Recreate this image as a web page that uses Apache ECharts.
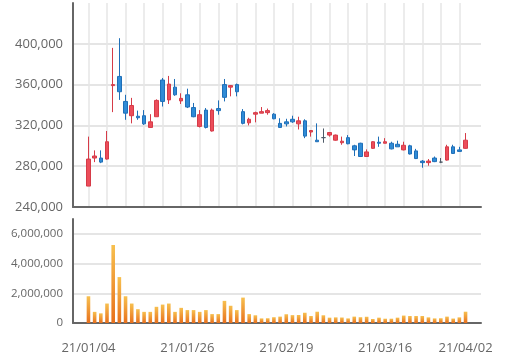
<!DOCTYPE html>
<html>
<head>
<meta charset="utf-8">
<script src="https://cdn.jsdelivr.net/npm/echarts@6/dist/echarts.min.js"></script>
<style>
html,body{margin:0;padding:0;background:#fff;}
#main{width:512px;height:364px;}
</style>
</head>
<body>
<div id="main"></div>
<script>
const dates = [
 '21/01/04','21/01/05','21/01/06','21/01/07','21/01/08','21/01/11','21/01/12','21/01/13','21/01/14','21/01/15',
 '21/01/18','21/01/19','21/01/20','21/01/21','21/01/22','21/01/25','21/01/26','21/01/27','21/01/28','21/01/29',
 '21/02/01','21/02/02','21/02/03','21/02/04','21/02/05','21/02/08','21/02/09','21/02/10','21/02/15','21/02/16',
 '21/02/17','21/02/18','21/02/19','21/02/22','21/02/23','21/02/24','21/02/25','21/02/26','21/03/02','21/03/03',
 '21/03/04','21/03/05','21/03/08','21/03/09','21/03/10','21/03/11','21/03/12','21/03/15','21/03/16','21/03/17',
 '21/03/18','21/03/19','21/03/22','21/03/23','21/03/24','21/03/25','21/03/26','21/03/29','21/03/30','21/03/31',
 '21/04/01','21/04/02'
];
const openP = [
 260500,288000,288000,287000,359000,368000,343500,329500,329000,329500,
 318000,328500,364500,345000,357500,344000,350000,337500,319000,335000,
 314500,336500,360000,357500,360000,333500,322500,331000,332000,332500,
 331000,322000,323500,326000,321500,324500,313500,305500,308000,310500,
 305500,303000,308000,300000,302500,289500,297500,303500,302500,302500,
 301500,296000,300000,295000,285000,283500,288000,284000,286000,299000,
 296000,297500
];
const closeP = [
 287000,290000,284000,304000,360000,353000,332000,339500,327500,321500,
 323500,344500,343500,360500,350000,346500,338000,328500,330500,318000,
 335000,334500,347500,359000,353000,322000,326000,332500,333500,334500,
 326500,318000,321500,323500,324500,309500,315000,304000,308000,313000,
 310500,304500,302000,296000,289500,294000,304000,302500,304000,297000,
 299000,300500,292000,287500,283500,285000,284500,284000,299000,292500,
 294500,305500
];
const lowP = [
 260500,284000,283000,286500,333000,345000,325500,322000,325500,320500,
 317500,328500,338500,341000,349000,341000,337000,328000,318000,317000,
 314000,330500,343500,348500,348500,321000,320000,323000,332000,330500,
 326000,318000,319000,322500,316000,307500,309000,304000,303000,309000,
 305000,301000,301500,290000,289000,289000,297000,299000,302500,296500,
 299000,295500,291500,287000,278500,280500,284000,283000,285500,292000,
 294500,297000
];
const highP = [
 309000,295500,295500,314500,396000,405500,350000,347000,334500,335000,
 331000,345500,366500,368500,365500,351500,356000,342000,335000,337000,
 336500,344500,365500,359500,361000,336000,327500,333500,338000,336500,
 332000,327000,326500,329500,328500,326000,315500,322000,317000,313500,
 311000,309000,310500,301000,303000,296500,304500,309000,307500,304000,
 305000,304000,301000,297000,286000,287000,289500,288000,301000,301000,
 299000,312500
];
const volume = [
 1800000,750000,650000,1310000,5250000,3090000,1800000,1310000,930000,750000,
 750000,1090000,1240000,1310000,750000,1020000,870000,870000,750000,870000,
 600000,600000,1490000,1160000,870000,1710000,600000,520000,310000,320000,
 390000,430000,590000,530000,540000,690000,470000,760000,520000,360000,
 380000,370000,310000,430000,390000,420000,270000,360000,290000,290000,
 360000,500000,470000,470000,470000,380000,310000,320000,430000,300000,
 380000,760000
];
const priceMin = 240000, priceMax = 440000, priceStep = 40000;
const volMin = 0, volMax = 7000000, volStep = 2000000;

// two empty slots on each side of the date axis
const padL = ['', ' '];
const padR = ['  ', '   '];
const categories = padL.concat(dates, padR);
const firstIdx = padL.length;
const lastIdx = padL.length + dates.length - 1;

const candleData = dates.map((d, i) => [d, openP[i], closeP[i], lowP[i], highP[i]]);
const volData = dates.map((d, i) => [d, volume[i]]);

function commas(v) { return String(v).replace(/\B(?=(\d{3})+(?!\d))/g, ','); }

const FONT = 'Open Sans';
const axisLineStyle = { color: '#666', width: 2 };
const chart = echarts.init(document.getElementById('main'), null, { renderer: 'canvas' });
chart.setOption({
  animation: false,
  backgroundColor: '#fff',
  textStyle: { fontFamily: FONT },
  grid: [
    { left: 73, right: 31, top: 3, height: 204 },
    { left: 73, right: 31, top: 219, height: 104 }
  ],
  xAxis: [
    {
      type: 'category', gridIndex: 0, data: categories, boundaryGap: true,
      axisLine: { lineStyle: axisLineStyle },
      axisTick: { show: false },
      axisLabel: { show: false },
      splitLine: {
        show: true, alignWithLabel: true,
        interval: (idx) => idx >= firstIdx && idx <= lastIdx && (idx - firstIdx) % 3 === 0,
        lineStyle: { color: '#e6e6e6', width: 1.5 }
      }
    },
    {
      type: 'category', gridIndex: 1, data: categories, boundaryGap: true,
      axisLine: { lineStyle: axisLineStyle },
      axisTick: { show: false },
      axisLabel: {
        color: '#666', fontSize: 13, fontFamily: FONT, margin: 19,
        interval: (idx) => idx >= firstIdx && idx <= lastIdx && ((idx - firstIdx) % 16 === 0 || idx === lastIdx)
      },
      splitLine: { show: false }
    }
  ],
  yAxis: [
    {
      type: 'value', gridIndex: 0, min: priceMin, max: priceMax, interval: priceStep,
      axisLine: { show: true, lineStyle: axisLineStyle },
      axisTick: { show: false },
      axisLabel: { color: '#666', fontSize: 13, fontFamily: FONT, margin: 10, showMaxLabel: false, formatter: commas },
      splitLine: { show: true, showMaxLine: false, showMinLine: false, lineStyle: { color: '#dcdcdc', width: 1.5 } }
    },
    {
      type: 'value', gridIndex: 1, min: volMin, max: volMax, interval: volStep,
      axisLine: { show: true, lineStyle: axisLineStyle },
      axisTick: { show: false },
      axisLabel: { color: '#666', fontSize: 11.5, fontFamily: FONT, margin: 10, showMaxLabel: false, formatter: commas },
      splitLine: { show: true, showMaxLine: false, showMinLine: false, lineStyle: { color: '#dcdcdc', width: 1.5 } }
    }
  ],
  series: [
    {
      type: 'candlestick', xAxisIndex: 0, yAxisIndex: 0,
      data: candleData,
      encode: { x: 0, y: [1, 2, 3, 4] },
      barWidth: '64%',
      itemStyle: {
        color: '#ec4d5a', borderColor: '#d63b48',
        color0: '#2f8bd6', borderColor0: '#1f6fb8',
        borderColorDoji: '#4e5b68', borderWidth: 1
      }
    },
    {
      type: 'bar', xAxisIndex: 1, yAxisIndex: 1,
      data: volData,
      encode: { x: 0, y: 1 },
      barWidth: '58%',
      itemStyle: {
        color: new echarts.graphic.LinearGradient(0, 0, 0, 1, [
          { offset: 0, color: '#f7c04f' },
          { offset: 1, color: '#e8701c' }
        ])
      }
    }
  ]
});
</script>
</body>
</html>
